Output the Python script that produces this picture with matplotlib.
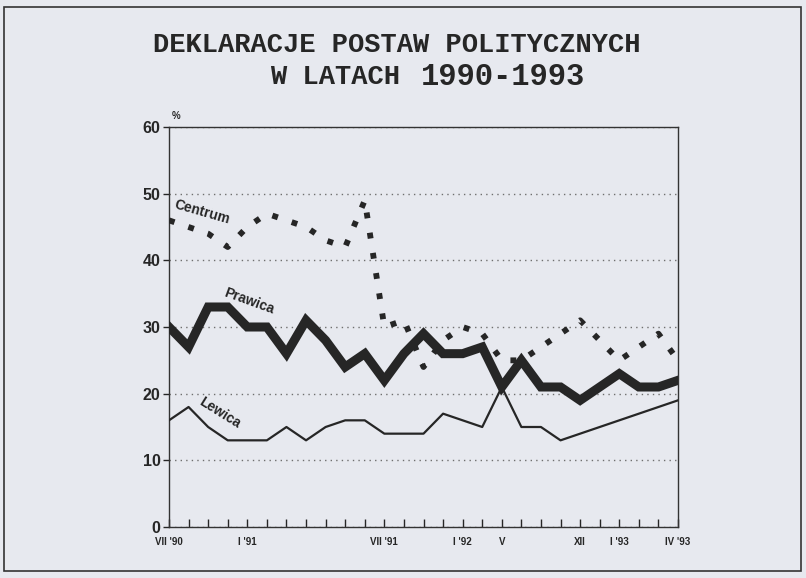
import numpy as np
import matplotlib.pyplot as plt
from matplotlib.patches import Rectangle

# survey points, evenly spaced on the x axis
surveys = np.arange(27)
tick_labels = {0: "VII '90", 4: "I '91", 11: "VII '91", 15: "I '92",
               17: "V", 21: "XII", 23: "I '93", 26: "IV '93"}

prawica = [30, 27, 33, 33, 30, 30, 26, 31, 28, 24, 26, 22, 26, 29, 26,
           26, 27, 21, 25, 21, 21, 19, 21, 23, 21, 21, 22]
centrum = [46, 45, 44, 42, 45, 47, 46, 45, 43, 42, 49, 30, 31, 24, 28,
           30, 29, 25, 25, 27, 29, 31, 28, 25, 27, 29, 25]
# lewica has no points between XII and IV '93
lewica_idx = list(range(21)) + [26]
lewica = [16, 18, 15, 13, 13, 13, 15, 13, 15, 16, 16, 14, 14, 14, 17,
          16, 15, 21, 15, 15, 13, 19]

bg = '#e7e9ef'
ink = '#262626'

fig = plt.figure(figsize=(8.06, 5.78), dpi=100, facecolor=bg)
ax = fig.add_axes([169 / 806, 1 - 527 / 578, 509 / 806, 400 / 578])
ax.set_facecolor(bg)

# frame round the whole page
fig.patches.append(Rectangle((4 / 806, 1 - 571 / 578), 797 / 806, 564 / 578,
                             transform=fig.transFigure, fill=False,
                             edgecolor='#333333', lw=1.2))

ax.plot(surveys, centrum, color=ink, lw=4.2, linestyle=(0, (1, 2.5)),
        dash_capstyle='butt', zorder=3)
ax.plot(lewica_idx, lewica, color=ink, lw=1.6, zorder=4)
ax.plot(surveys, prawica, color=ink, lw=6.5, solid_joinstyle='miter', zorder=5)

ax.set_xlim(0, 26)
ax.set_ylim(0, 60)
ax.set_yticks(range(0, 61, 10))
ax.set_xticks(surveys, labels=[tick_labels.get(i, '') for i in surveys])
ax.tick_params(axis='x', direction='in', length=6, width=1, pad=7,
               labelsize=7, colors=ink)
ax.tick_params(axis='y', direction='out', length=4, width=1, pad=2,
               labelsize=11.5, colors=ink)
for lab in ax.get_xticklabels() + ax.get_yticklabels():
    lab.set_fontfamily('Liberation Sans')
    lab.set_fontweight('bold')
for sp in ax.spines.values():
    sp.set_color('#333333')
    sp.set_linewidth(1)

ax.yaxis.grid(True, linestyle=(0, (1, 3)), color='#6f6f6f', lw=1)
ax.set_axisbelow(True)

lab_kw = dict(color=ink, fontsize=10, fontweight='bold', family='Liberation Sans',
              ha='center', va='center', rotation_mode='anchor', zorder=6)
ax.text(1.7, 47.3, 'Centrum', rotation=-16, **lab_kw)
ax.text(4.1, 33.8, 'Prawica', rotation=-20, **lab_kw)
ax.text(2.6, 17.2, 'Lewica', rotation=-32, **lab_kw)

fig.text(172 / 806, 1 - 116 / 578, '%', fontsize=7, fontweight='bold',
         family='Liberation Sans', color=ink, va='center')

mono = dict(family='Liberation Mono', fontweight='bold', color=ink, va='center')
fig.text(397 / 806, 1 - 45 / 578, 'DEKLARACJE POSTAW POLITYCZNYCH',
         fontsize=19.5, ha='center', **mono)
fig.text(270 / 806, 1 - 77 / 578, 'W LATACH ', fontsize=19.5, ha='left', **mono)
fig.text(585 / 806, 1 - 77 / 578, '1990-1993', fontsize=22, ha='right', **mono)

fig.savefig('out.png', dpi=100, facecolor=bg)
